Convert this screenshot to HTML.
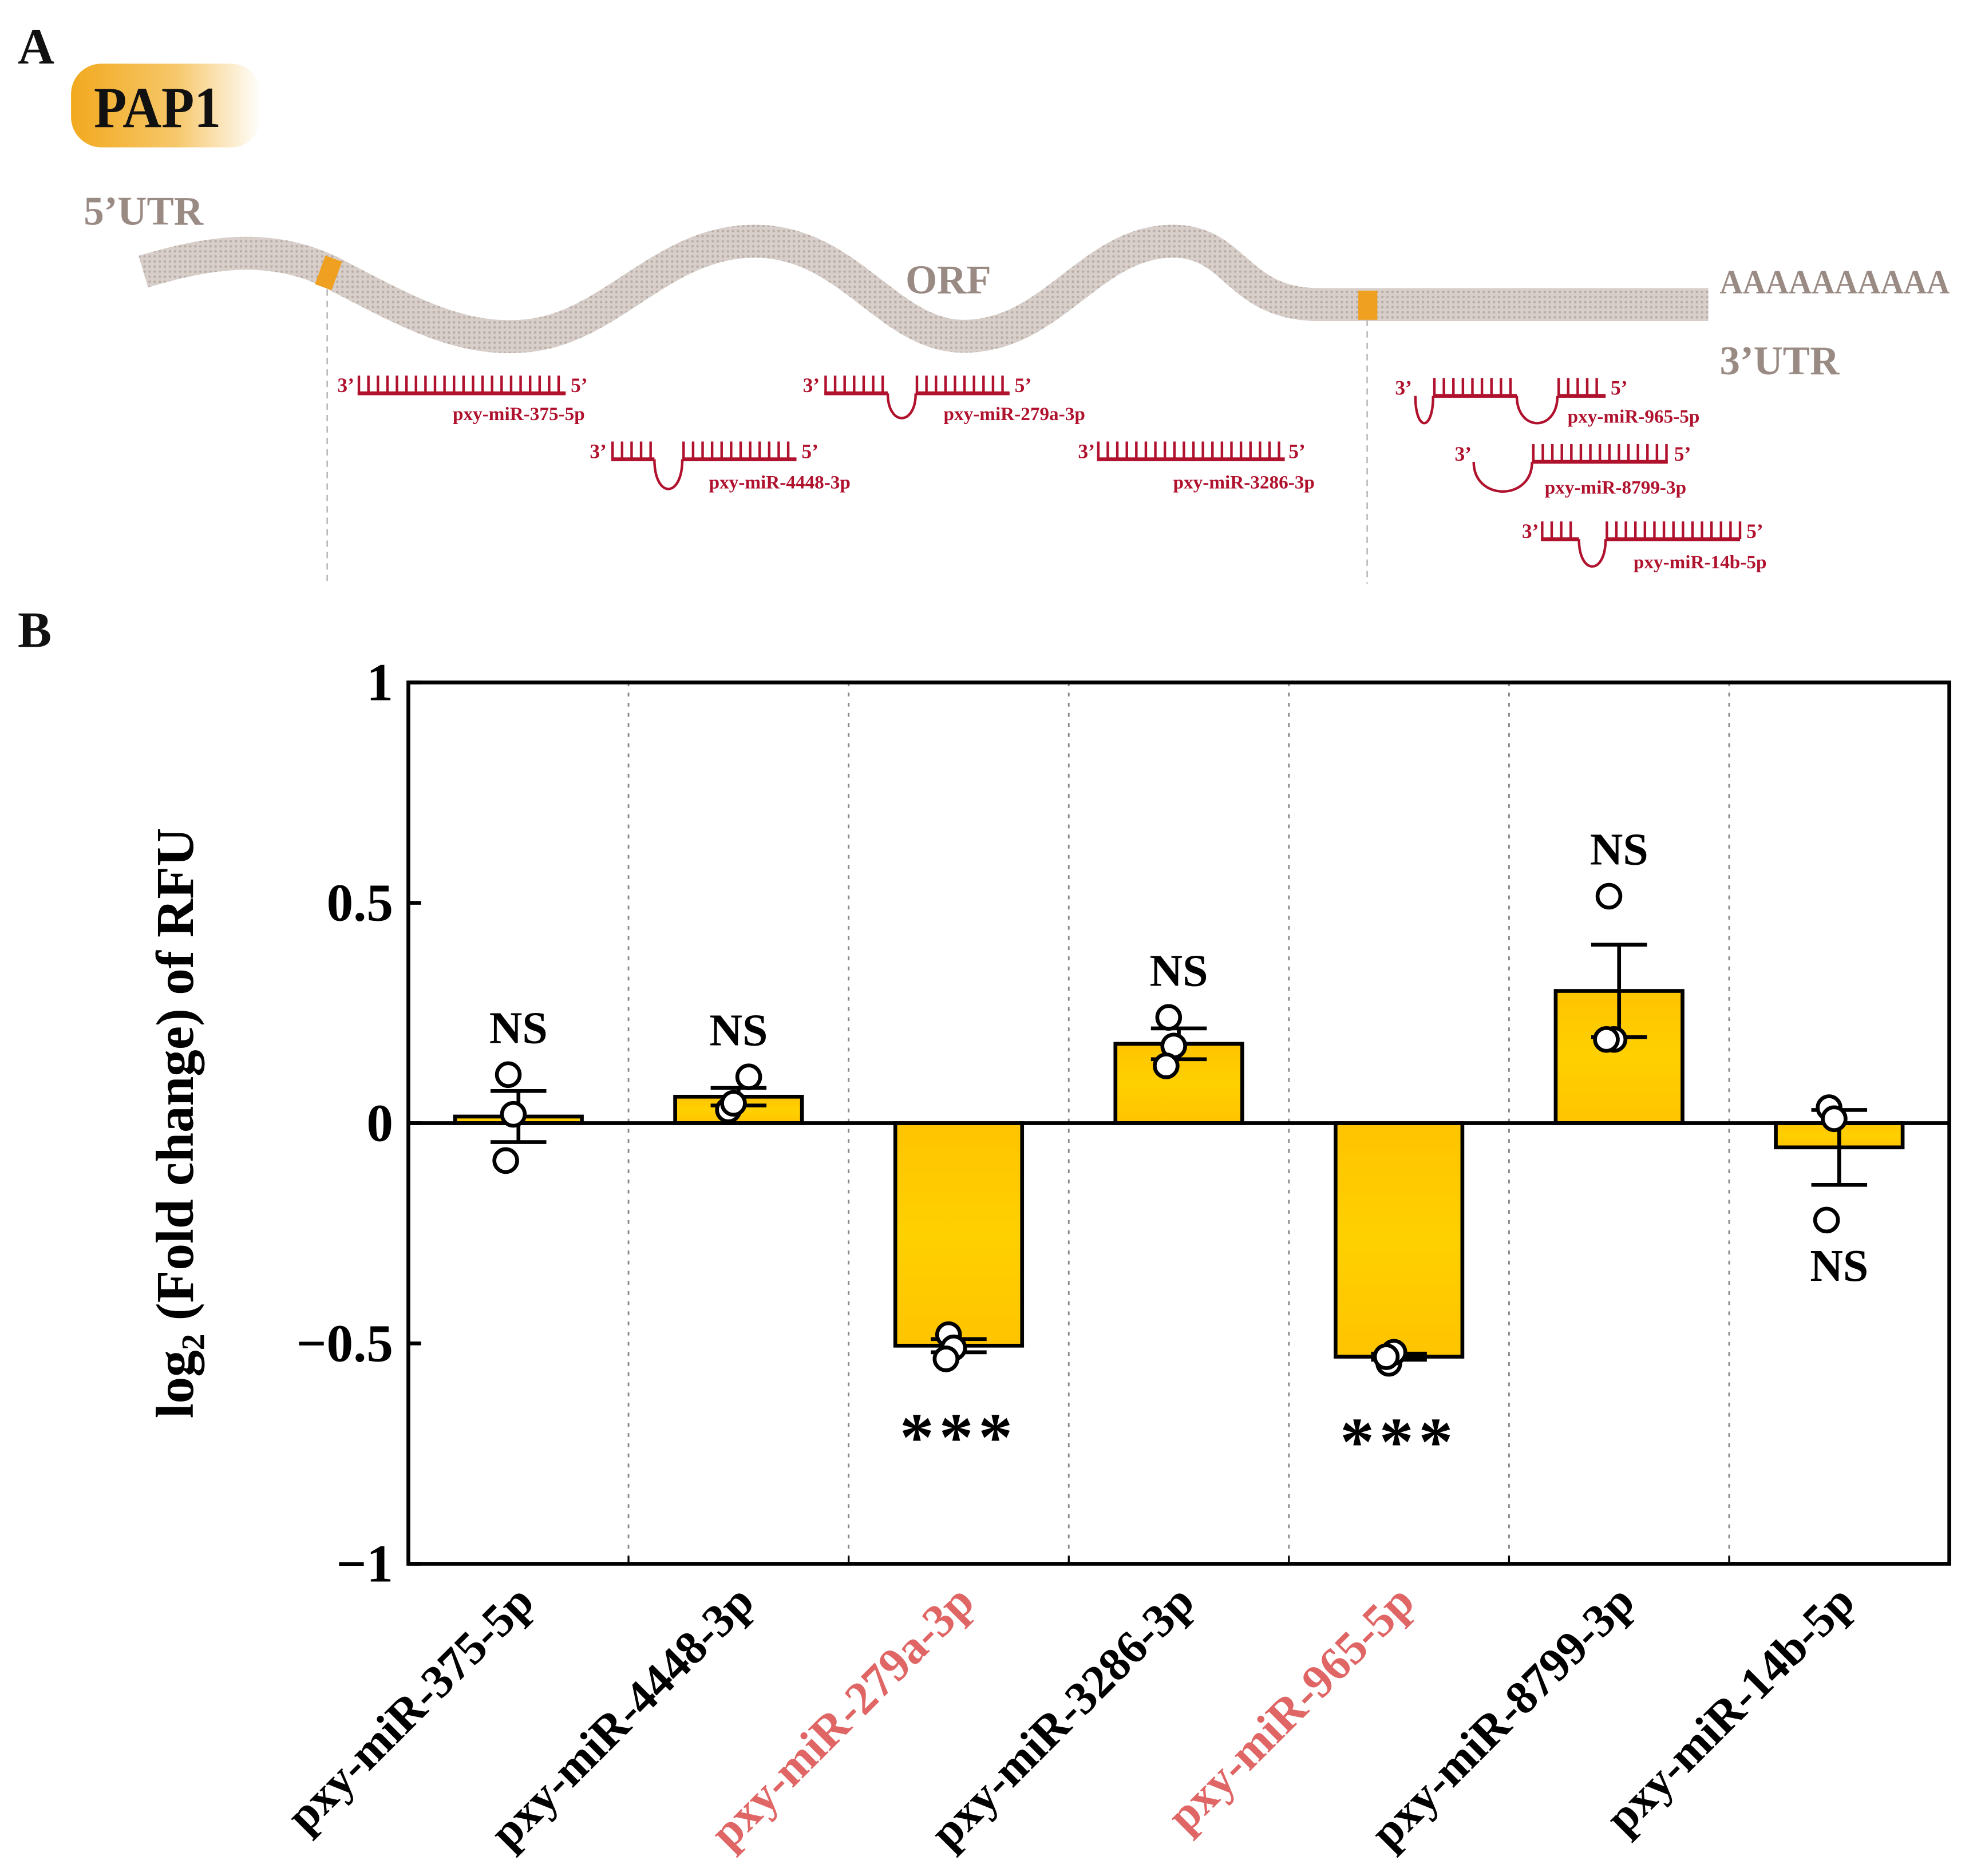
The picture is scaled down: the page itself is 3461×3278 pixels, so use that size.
<!DOCTYPE html>
<html><head><meta charset="utf-8"><style>
html,body{margin:0;padding:0;background:#fff}
svg{display:block}
text{font-family:"Liberation Serif",serif;font-weight:bold}
</style></head><body>
<svg id="fig" width="3461" height="3278" viewBox="0 0 1562 1479" xmlns="http://www.w3.org/2000/svg">
<defs>
<linearGradient id="pg" x1="0" x2="1" y1="0" y2="0"><stop offset="0" stop-color="#f2a91e"/><stop offset="0.55" stop-color="#f6c76a"/><stop offset="1" stop-color="#fff"/></linearGradient>
<linearGradient id="bg" x1="0" x2="0" y1="0" y2="1"><stop offset="0" stop-color="#ffc400"/><stop offset="0.5" stop-color="#ffd000"/><stop offset="1" stop-color="#ffc400"/></linearGradient>
<pattern id="hatch" width="4" height="4" patternUnits="userSpaceOnUse"><rect width="4" height="4" fill="#d8cfca"/><circle cx="2" cy="2" r="1" fill="#b9ada7"/></pattern>
</defs>
<text x="14" y="50" font-size="40" fill="#111">A</text>
<rect x="56" y="50" width="150" height="66" rx="24" fill="url(#pg)"/>
<text x="74" y="100" font-size="46" fill="#111" transform="translate(74 0) scale(0.92 1) translate(-74 0)">PAP1</text>
<text x="66" y="177" font-size="32" fill="#9a8a84">5’UTR</text>
<text x="714" y="231" font-size="32" fill="#9a8a84">ORF</text>
<text x="1356" y="231" font-size="27" fill="#9a8a84" transform="translate(1356 0) scale(0.93 1) translate(-1356 0)">AAAAAAAAAA</text>
<text x="1356" y="295" font-size="32" fill="#9a8a84">3’UTR</text>
<path d="M113,214 C160,200 210,190 260,214 C320,245 360,268 410,265 C480,262 520,190 595,190 C670,190 700,265 760,265 C830,265 860,190 925,190 C975,190 975,240 1040,240 L1347,240" fill="none" stroke="url(#hatch)" stroke-width="26"/>
<rect x="252" y="203" width="14" height="24" fill="#f0a020" transform="rotate(20 259 215)"/>
<rect x="1071" y="229" width="15" height="23" fill="#f0a020"/>
<line x1="258" y1="228" x2="258" y2="460" stroke="#bbb" stroke-width="1.2" stroke-dasharray="5,4"/>
<line x1="1078" y1="252" x2="1078" y2="460" stroke="#bbb" stroke-width="1.2" stroke-dasharray="5,4"/>
<g id="mirs"></g>
<text x="14" y="510" font-size="40" fill="#111">B</text>
<g id="chart"></g>
</svg>
<script>
const NS='http://www.w3.org/2000/svg';
function mk(parent,tag,attrs,txt){const e=document.createElementNS(NS,tag);for(const k in attrs)e.setAttribute(k,attrs[k]);if(txt!==undefined)e.textContent=txt;parent.appendChild(e);return e;}
const red='#b0122e';
const mirDefs=[
 {name:'pxy-miR-375-5p',x3:266,y:310,segs:[['s',282,446]],x5:450,lx:357,ly:331},
 {name:'pxy-miR-279a-3p',x3:633,y:310,segs:[['s',650,700],['l',700,722,20],['s',722,796]],x5:800,lx:744,ly:331},
 {name:'pxy-miR-4448-3p',x3:465,y:362,segs:[['s',482,516],['l',516,538,24],['s',538,628]],x5:632,lx:559,ly:385},
 {name:'pxy-miR-3286-3p',x3:850,y:362,segs:[['s',865,1013]],x5:1016,lx:925,ly:385},
 {name:'pxy-miR-965-5p',x3:1100,y:312,segs:[['l',1116,1130,22],['s',1130,1196],['l',1196,1228,22],['s',1228,1266]],x5:1270,lx:1236,ly:333},
 {name:'pxy-miR-8799-3p',x3:1147,y:364,segs:[['l',1162,1208,24],['s',1208,1315]],x5:1320,lx:1218,ly:389},
 {name:'pxy-miR-14b-5p',x3:1200,y:425,segs:[['s',1215,1245],['l',1245,1266,22],['s',1266,1372]],x5:1377,lx:1288,ly:448}
];
const mg=document.getElementById('mirs');
mirDefs.forEach(m=>{
 const g=mk(mg,'g',{});
 
 
 let d='';
 m.segs.forEach(s=>{
  if(s[0]==='s'){d+=`M${s[1]},${m.y}L${s[2]},${m.y}`;for(let x=s[1]+1;x<=s[2];x+=7.5){d+=`M${x},${m.y}L${x},${m.y-14}`;}}
  else{d+=`M${s[1]},${m.y}C${s[1]},${m.y+s[3]*1.3} ${s[2]},${m.y+s[3]*1.3} ${s[2]},${m.y}`;}
 });
 mk(g,'path',{d:d,stroke:red,'stroke-width':'2',fill:'none'});
 mk(g,'path',{d:m.segs.filter(s=>s[0]==='s').map(s=>`M${s[1]},${m.y}L${s[2]},${m.y}`).join(''),stroke:red,'stroke-width':'3',fill:'none'});
 mk(g,'text',{x:m.x3,y:m.y-1,'font-size':'16',fill:red},'3’');
 mk(g,'text',{x:m.x5,y:m.y-1,'font-size':'16',fill:red},'5’');
 mk(g,'text',{x:m.lx,y:m.ly,'font-size':'15',fill:red},m.name);
});

// ---- chart data ----
const categories=['pxy-miR-375-5p','pxy-miR-4448-3p','pxy-miR-279a-3p','pxy-miR-3286-3p','pxy-miR-965-5p','pxy-miR-8799-3p','pxy-miR-14b-5p'];
const means=[0.015,0.06,-0.505,0.18,-0.53,0.30,-0.055];
const errs=[0.058,0.02,0.015,0.035,0.007,0.105,0.085];
const pts1=[0.11,0.03,-0.48,0.24,-0.545,0.515,0.035];
const pts2=[0.02,0.045,-0.51,0.175,-0.52,0.19,0.01];
const pts3=[-0.085,0.105,-0.535,0.13,-0.53,0.19,-0.22];
const sigLabels=['NS','NS','***','NS','***','NS','NS'];
const labelColors=['#000','#000','#e06666','#000','#e06666','#000','#000'];
const yTicks=[1,0.5,0,-0.5,-1];
const yTickLabels=['1','0.5','0','\u22120.5','\u22121'];

const L=322,R=1537,T=538,B=1233,ymin=-1,ymax=1;
const band=(R-L)/categories.length;
const xc=i=>L+band*(i+0.5);
const y=v=>T+(ymax-v)/(ymax-ymin)*(B-T);
const c=document.getElementById('chart');
for(let i=1;i<categories.length;i++){
 const gl=mk(c,'line',{x1:L+band*i,x2:L+band*i,y1:T,y2:B,stroke:'#888','stroke-width':'1.3','stroke-dasharray':'3,5'});
 
 
 mk(c,'line',{x1:L+band*i,x2:L+band*i,y1:B,y2:B-6,stroke:'#000','stroke-width':'1.5'});
}
categories.forEach((cat,i)=>{
 const bw=100,y0=y(0),yv=y(means[i]);
 const r=mk(c,'rect',{x:xc(i)-bw/2,y:Math.min(y0,yv),width:bw,height:Math.abs(yv-y0),fill:'url(#bg)',stroke:'#000','stroke-width':'3'});
 
 
});
mk(c,'line',{x1:L,x2:R,y1:y(0),y2:y(0),stroke:'#000','stroke-width':'3'});
categories.forEach((cat,i)=>{
 const g=mk(c,'g',{});
 
 
 const x=xc(i),hi=y(means[i]+errs[i]),lo=y(means[i]-errs[i]);
 mk(g,'path',{d:`M${x},${hi}L${x},${lo}M${x-22},${hi}L${x+22},${hi}M${x-22},${lo}L${x+22},${lo}`,stroke:'#000','stroke-width':'3',fill:'none'});
 const offs=[-8,-4,-10];
 [pts1,pts2,pts3].forEach((arr,k)=>{
  const p=mk(c,'circle',{cx:x+offs[k]+(k===2&&arr[i]>means[i]?18:0),cy:y(arr[i]),r:9,fill:'#fff',stroke:'#000','stroke-width':'3'});
  
  
 });
 const up=means[i]>=0;
 const top=Math.min(...[pts1[i],pts2[i],pts3[i]].map(y),hi,y(means[i]));
 const bot=Math.max(...[pts1[i],pts2[i],pts3[i]].map(y),lo,y(means[i]));
 const star=sigLabels[i]==='***';
 const ty=up?top-25:(star?bot+80:bot+48);
 const s=mk(c,'text',{x:x,y:ty,'font-size':star?'54':'36','text-anchor':'middle',fill:'#000','letter-spacing':star?'4':'0'},sigLabels[i]);
 
 
 const xl=mk(c,'text',{x:x+14,y:B+32,'font-size':'37','text-anchor':'end',fill:labelColors[i],transform:`rotate(-45 ${x+14} ${B+32})`},cat);
 
 
});
const fr=mk(c,'rect',{x:L,y:T,width:R-L,height:B-T,fill:'none',stroke:'#000','stroke-width':'3'});


yTicks.forEach((t,k)=>{
 mk(c,'line',{x1:L,x2:L+10,y1:y(t),y2:y(t),stroke:'#000','stroke-width':'3'});
 const tl=mk(c,'text',{x:L-12,y:y(t)+14,'font-size':'42','text-anchor':'end',fill:'#000'},yTickLabels[k]);
 
 
});
const yt=mk(c,'text',{x:0,y:0,'font-size':'42','text-anchor':'middle',fill:'#000',transform:`translate(152 ${(T+B)/2}) rotate(-90)`});


mk(yt,'tspan',{},'log');
mk(yt,'tspan',{'font-size':'26',dy:'9'},'2');
mk(yt,'tspan',{dy:'-9'},' (Fold change) of RFU');
</script>
</body></html>
